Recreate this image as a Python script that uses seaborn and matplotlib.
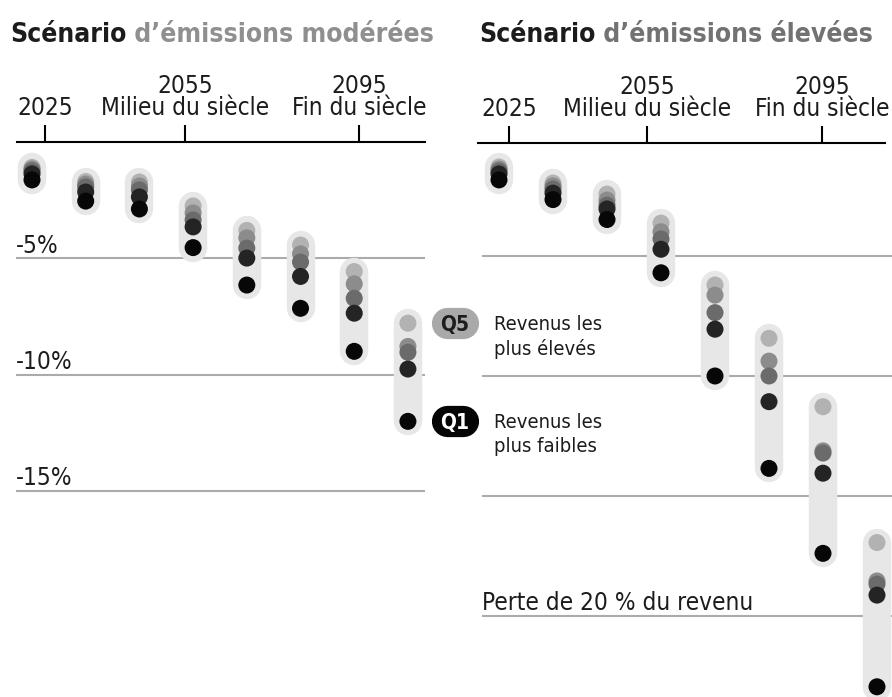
import matplotlib
matplotlib.use("Agg")
import matplotlib.pyplot as plt
from matplotlib import font_manager
from matplotlib.lines import Line2D
from matplotlib.transforms import blended_transform_factory
import pandas as pd
import seaborn as sns

# Income loss (% of income) per income quintile, eight successive periods
periods = [0, 1, 2, 3, 4, 5, 6, 7]
quintiles = ["Q5", "Q4", "Q3", "Q2", "Q1"]

moderate_q5 = [-1.09, -1.70, -1.72, -2.75, -3.80, -4.43, -5.57, -7.79]
moderate_q4 = [-1.16, -1.81, -1.89, -3.05, -4.12, -4.81, -6.10, -8.79]
moderate_q3 = [-1.24, -1.93, -2.06, -3.35, -4.56, -5.16, -6.72, -9.04]
moderate_q2 = [-1.37, -2.15, -2.36, -3.65, -4.99, -5.78, -7.36, -9.76]
moderate_q1 = [-1.63, -2.54, -2.88, -4.54, -6.15, -7.15, -9.00, -12.01]

high_q5 = [-1.29, -1.96, -2.42, -3.63, -6.21, -8.43, -11.28, -16.94]
high_q4 = [-1.38, -2.08, -2.67, -3.99, -6.63, -9.38, -13.12, -18.54]
high_q3 = [-1.46, -2.21, -2.88, -4.29, -7.36, -10.00, -13.21, -18.67]
high_q2 = [-1.58, -2.38, -3.04, -4.72, -8.05, -11.07, -14.05, -19.13]
high_q1 = [-1.83, -2.65, -3.48, -5.70, -10.00, -13.85, -17.39, -22.95]

tick_labels = ["2025", "2055\nMilieu du siècle", "2095\nFin du siècle"]
grid_levels_moderate = [-5, -10, -15]
grid_labels_moderate = ["-5%", "-10%", "-15%"]
grid_levels_high = [-5, -10, -15, -20]
grid_labels_high = ["", "", "", "Perte de 20 % du revenu"]

title_bold = "Scénario"
title_moderate = " d’émissions modérées"
title_high = " d’émissions élevées"
legend_high_label = "Revenus les\nplus élevés"
legend_low_label = "Revenus les\nplus faibles"

palette = {"Q5": "#b2b2b2", "Q4": "#8c8c8c", "Q3": "#6b6b6b",
           "Q2": "#242424", "Q1": "#070707"}


def long_table(series):
    rows = []
    for q, vals in zip(quintiles, series):
        for p, v in zip(periods, vals):
            rows.append({"period": p, "loss": v, "quintile": q})
    return pd.DataFrame(rows)


moderate = long_table([moderate_q5, moderate_q4, moderate_q3, moderate_q2, moderate_q1])
high = long_table([high_q5, high_q4, high_q3, high_q2, high_q1])

sns.set_theme(style="white")
names = {f.name for f in font_manager.fontManager.ttflist}
if "Liberation Sans Narrow" in names:
    plt.rcParams["font.family"] = ["Liberation Sans Narrow", "DejaVu Sans"]
else:
    plt.rcParams["font.family"] = ["DejaVu Sans"]
    plt.rcParams["font.stretch"] = "condensed"

W, H = 892, 697
fig = plt.figure(figsize=(W / 100, H / 100), dpi=100)
TEXT = "#1c1c1c"
GRID = "#ababab"
CAPSULE = "#e7e7e7"
LABEL_SIZE = 17.5


def make_panel(x0, x1, ytop, xlim, ylim, ticks, spine_bounds, df,
               levels, level_labels):
    ax = fig.add_axes([x0 / W, 0, (x1 - x0) / W, (H - ytop) / H])
    ax.set_xlim(*xlim)
    ax.set_ylim(*ylim)
    for side in ("left", "right", "bottom"):
        ax.spines[side].set_visible(False)
    ax.spines["top"].set_color("black")
    ax.spines["top"].set_linewidth(1.5)
    ax.spines["top"].set_bounds(*spine_bounds)
    ax.set_facecolor("none")

    # reference lines
    trans = blended_transform_factory(ax.transAxes, ax.transData)
    for lev, lab in zip(levels, level_labels):
        ax.axhline(lev, color=GRID, lw=1.5, zorder=0)
        if lab:
            ax.annotate(lab, xy=(0, lev), xycoords=trans, xytext=(0, 4),
                        textcoords="offset points", ha="left", va="baseline",
                        fontsize=LABEL_SIZE, color=TEXT)

    # grey capsule behind each period
    span = df.groupby("period")["loss"].agg(["min", "max"])
    for p, r in span.iterrows():
        ax.plot([p, p], [r["min"], r["max"]], color=CAPSULE, lw=20.5,
                solid_capstyle="round", zorder=1)

    sns.scatterplot(data=df, x="period", y="loss", hue="quintile",
                    hue_order=quintiles, palette=palette, s=150,
                    linewidth=0, legend=False, ax=ax, zorder=3)

    ax.set_xlabel("")
    ax.set_ylabel("")
    ax.set_yticks([])
    ax.xaxis.tick_top()
    ax.set_xticks(ticks)
    ax.set_xticklabels(tick_labels)
    ax.tick_params(axis="x", direction="out", length=12, width=1.5,
                   color="black", pad=4, labelsize=LABEL_SIZE, labelcolor=TEXT)
    for t in ax.get_xticklabels():
        t.set_linespacing(0.9)
    return ax


ax_mod = make_panel(16, 425, 142, (-0.298, 7.318), (-23.86, 0.0),
                    [0.242, 2.849, 6.089], (-0.279, 7.318), moderate,
                    grid_levels_moderate, grid_labels_moderate)
ax_high = make_panel(482, 892, 143, (-0.315, 7.278), (-23.375, -0.292),
                     [0.185, 2.74, 5.98], (-0.389, 7.148), high,
                     grid_levels_high, grid_labels_high)

# titles: bold black lead word followed by a grey qualifier
for x, rest, col in ((10, title_moderate, "#8f8f8f"), (479, title_high, "#727272")):
    t1 = fig.text(x / W, 1 - 42 / H, title_bold, fontsize=19, weight="bold",
                  color=TEXT, va="baseline", ha="left")
    ax_mod.annotate(rest, xy=(1, 0), xycoords=t1, va="bottom", ha="left",
                    fontsize=19, weight="bold", color=col,
                    annotation_clip=False)

# quintile badges next to the last moderate period
btrans = blended_transform_factory(fig.transFigure, ax_mod.transData)
for q, val, face, fg, label in (("Q5", moderate_q5[-1], "#a9a9a9", "#1c1c1c", legend_high_label),
                                 ("Q1", moderate_q1[-1], "#050505", "white", legend_low_label)):
    pill = Line2D([447 / W, 463 / W], [val, val], transform=btrans, lw=22.5,
                  color=face, solid_capstyle="round", zorder=5)
    fig.add_artist(pill)
    fig.text(455 / W, val, q, transform=btrans, ha="center", va="center_baseline",
             fontsize=15, weight="bold", color=fg, zorder=6)
    ax_mod.annotate(label, xy=(494 / W, val), xycoords=btrans,
                    xytext=(0, 6), textcoords="offset points",
                    ha="left", va="top", fontsize=14.5, color=TEXT,
                    linespacing=1.3, annotation_clip=False)

fig.savefig("out.png", dpi=100)
